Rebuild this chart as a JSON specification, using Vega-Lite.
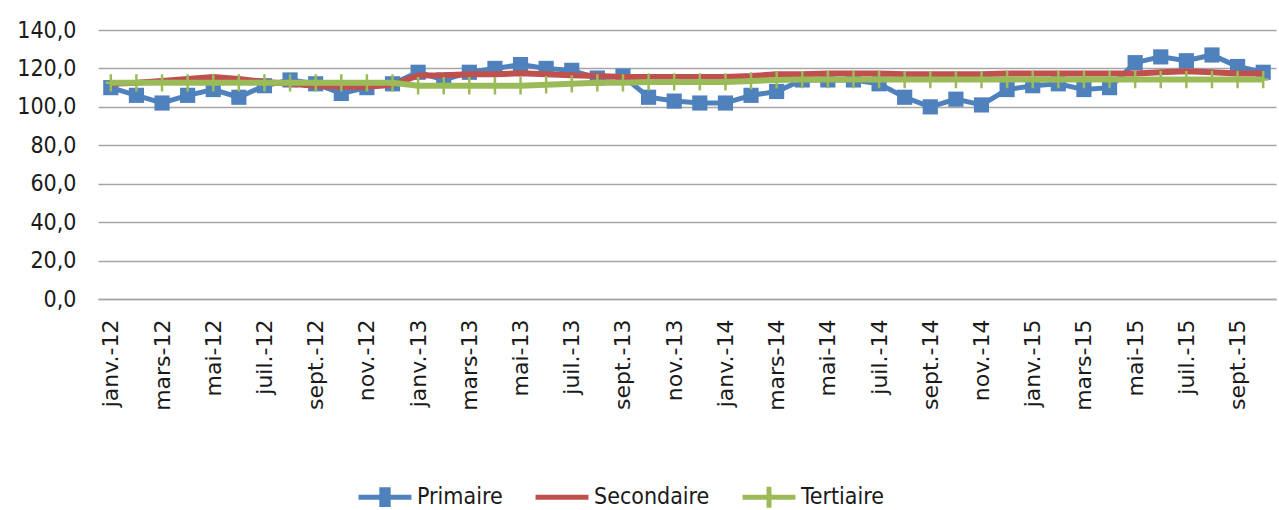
{
  "$schema": "https://vega.github.io/schema/vega-lite/v6.json",
  "autosize": {"type": "none"},
  "width": 1178,
  "height": 269,
  "padding": {"left": 98, "top": 30, "right": 3, "bottom": 211},
  "background": "white",
  "config": {
    "view": {"stroke": null},
    "font": "DejaVu Sans Condensed"
  },
  "datasets": {
    "d": [
      {"mois": "janv.-12", "Primaire": 110, "Secondaire": 112, "Tertiaire": 112.5},
      {"mois": "févr.-12", "Primaire": 106, "Secondaire": 112.5, "Tertiaire": 112.5},
      {"mois": "mars-12", "Primaire": 102, "Secondaire": 113.5, "Tertiaire": 112.5},
      {"mois": "avr.-12", "Primaire": 106, "Secondaire": 114.5, "Tertiaire": 112.5},
      {"mois": "mai-12", "Primaire": 109, "Secondaire": 115.5, "Tertiaire": 112.5},
      {"mois": "juin-12", "Primaire": 105, "Secondaire": 114.5, "Tertiaire": 112.5},
      {"mois": "juil.-12", "Primaire": 111, "Secondaire": 113, "Tertiaire": 112.5},
      {"mois": "août-12", "Primaire": 114, "Secondaire": 112, "Tertiaire": 112.5},
      {"mois": "sept.-12", "Primaire": 112, "Secondaire": 111, "Tertiaire": 112.5},
      {"mois": "oct.-12", "Primaire": 107, "Secondaire": 110.5, "Tertiaire": 112.5},
      {"mois": "nov.-12", "Primaire": 110, "Secondaire": 110.5, "Tertiaire": 112.5},
      {"mois": "déc.-12", "Primaire": 112, "Secondaire": 111.5, "Tertiaire": 112.5},
      {"mois": "janv.-13", "Primaire": 118, "Secondaire": 116.3, "Tertiaire": 111},
      {"mois": "févr.-13", "Primaire": 114, "Secondaire": 116.5, "Tertiaire": 111},
      {"mois": "mars-13", "Primaire": 118, "Secondaire": 117, "Tertiaire": 111},
      {"mois": "avr.-13", "Primaire": 120, "Secondaire": 117, "Tertiaire": 111},
      {"mois": "mai-13", "Primaire": 122, "Secondaire": 117.5, "Tertiaire": 111},
      {"mois": "juin-13", "Primaire": 120, "Secondaire": 117, "Tertiaire": 111.5},
      {"mois": "juil.-13", "Primaire": 119, "Secondaire": 116.5, "Tertiaire": 112},
      {"mois": "août-13", "Primaire": 115, "Secondaire": 116, "Tertiaire": 112.5},
      {"mois": "sept.-13", "Primaire": 116, "Secondaire": 115.5, "Tertiaire": 112.5},
      {"mois": "oct.-13", "Primaire": 105, "Secondaire": 115.5, "Tertiaire": 113},
      {"mois": "nov.-13", "Primaire": 103, "Secondaire": 115.5, "Tertiaire": 113},
      {"mois": "déc.-13", "Primaire": 102, "Secondaire": 115.5, "Tertiaire": 113},
      {"mois": "janv.-14", "Primaire": 102, "Secondaire": 115.5, "Tertiaire": 113},
      {"mois": "févr.-14", "Primaire": 106, "Secondaire": 116, "Tertiaire": 113.5},
      {"mois": "mars-14", "Primaire": 108, "Secondaire": 117, "Tertiaire": 114},
      {"mois": "avr.-14", "Primaire": 114, "Secondaire": 117, "Tertiaire": 114.2},
      {"mois": "mai-14", "Primaire": 114, "Secondaire": 117.3, "Tertiaire": 114.2},
      {"mois": "juin-14", "Primaire": 114, "Secondaire": 117.3, "Tertiaire": 114.2},
      {"mois": "juil.-14", "Primaire": 112, "Secondaire": 117.3, "Tertiaire": 114.2},
      {"mois": "août-14", "Primaire": 105, "Secondaire": 117, "Tertiaire": 114.2},
      {"mois": "sept.-14", "Primaire": 100, "Secondaire": 117, "Tertiaire": 114.2},
      {"mois": "oct.-14", "Primaire": 104, "Secondaire": 117, "Tertiaire": 114.2},
      {"mois": "nov.-14", "Primaire": 101, "Secondaire": 117, "Tertiaire": 114.2},
      {"mois": "déc.-14", "Primaire": 109, "Secondaire": 117.3, "Tertiaire": 114.2},
      {"mois": "janv.-15", "Primaire": 111, "Secondaire": 117.3, "Tertiaire": 114.2},
      {"mois": "févr.-15", "Primaire": 112, "Secondaire": 117.3, "Tertiaire": 114.2},
      {"mois": "mars-15", "Primaire": 109, "Secondaire": 117.3, "Tertiaire": 114.2},
      {"mois": "avr.-15", "Primaire": 110, "Secondaire": 117.3, "Tertiaire": 114.2},
      {"mois": "mai-15", "Primaire": 123, "Secondaire": 117.3, "Tertiaire": 114.2},
      {"mois": "juin-15", "Primaire": 126, "Secondaire": 118, "Tertiaire": 114.2},
      {"mois": "juil.-15", "Primaire": 124, "Secondaire": 118.5, "Tertiaire": 114.2},
      {"mois": "août-15", "Primaire": 127, "Secondaire": 118, "Tertiaire": 114.2},
      {"mois": "sept.-15", "Primaire": 121, "Secondaire": 117.3, "Tertiaire": 114.2},
      {"mois": "oct.-15", "Primaire": 118, "Secondaire": 117.3, "Tertiaire": 114.2}
    ]
  },
  "data": {"name": "d"},
  "transform": [
    {"fold": ["Primaire", "Secondaire", "Tertiaire"], "as": ["serie", "valeur"]}
  ],
  "encoding": {
    "x": {
      "field": "mois",
      "type": "ordinal",
      "title": null,
      "scale": {
        "domain": ["janv.-12","févr.-12","mars-12","avr.-12","mai-12","juin-12","juil.-12","août-12","sept.-12","oct.-12","nov.-12","déc.-12",
                   "janv.-13","févr.-13","mars-13","avr.-13","mai-13","juin-13","juil.-13","août-13","sept.-13","oct.-13","nov.-13","déc.-13",
                   "janv.-14","févr.-14","mars-14","avr.-14","mai-14","juin-14","juil.-14","août-14","sept.-14","oct.-14","nov.-14","déc.-14",
                   "janv.-15","févr.-15","mars-15","avr.-15","mai-15","juin-15","juil.-15","août-15","sept.-15","oct.-15"]
      },
      "axis": {
        "values": ["janv.-12","mars-12","mai-12","juil.-12","sept.-12","nov.-12","janv.-13","mars-13","mai-13","juil.-13","sept.-13","nov.-13","janv.-14","mars-14","mai-14","juil.-14","sept.-14","nov.-14","janv.-15","mars-15","mai-15","juil.-15","sept.-15"],
        "labelAngle": -90,
        "labelAlign": "right",
        "labelBaseline": "middle",
        "labelFont": "DejaVu Sans",
        "labelFontSize": 22,
        "labelColor": "#1a1a1a",
        "labelPadding": 20,
        "labelOverlap": false,
        "ticks": false,
        "domain": true,
        "domainColor": "#A6A6A6",
        "domainWidth": 1.3,
        "grid": false
      }
    },
    "y": {
      "field": "valeur",
      "type": "quantitative",
      "title": null,
      "scale": {"domain": [0, 140], "nice": false, "zero": true},
      "axis": {
        "values": [0, 20, 40, 60, 80, 100, 120, 140],
        "labelExpr": "replace(format(datum.value, '.1f'), '.', ',')",
        "labelFont": "DejaVu Sans Condensed",
        "labelFontSize": 23,
        "labelColor": "#1a1a1a",
        "labelPadding": 22,
        "ticks": false,
        "domain": false,
        "grid": true,
        "gridColor": "#A6A6A6",
        "gridWidth": 1.3
      }
    },
    "color": {
      "field": "serie",
      "type": "nominal",
      "title": null,
      "scale": {
        "domain": ["Primaire", "Secondaire", "Tertiaire"],
        "range": ["#4F81BD", "#C0504D", "#9BBB59"]
      },
      "legend": {
        "orient": "none",
        "direction": "horizontal",
        "legendX": 258,
        "legendY": 438,
        "labelFont": "DejaVu Sans Condensed",
        "labelFontSize": 23,
        "labelColor": "#1a1a1a",
        "labelOffset": 3,
        "columnPadding": 22,
        "symbolSize": 2800,
        "symbolStrokeWidth": 5,
        "symbolType": "M-1,0H1",
        "encode": {
          "symbols": {
            "update": {
              "shape": {"signal": "datum.value === 'Primaire' ? 'M-1,0H1M-0.12,-0.28H0.12V0.28H-0.12ZM0,-0.4L0,-0.4M0,0.4L0,0.4' : (datum.value === 'Tertiaire' ? 'M-1,0H1M0,-0.4V0.4' : 'M-1,0H1M0,-0.4L0,-0.4M0,0.4L0,0.4')"},
              "fill": {"value": "transparent"},
              "stroke": {"scale": "color", "field": "value"},
              "strokeWidth": {"value": 5},
              "opacity": {"value": 1}
            }
          }
        }
      }
    }
  },
  "layer": [
    {
      "transform": [{"filter": "datum.serie === 'Primaire'"}],
      "mark": {"type": "line", "strokeWidth": 5}
    },
    {
      "transform": [{"filter": "datum.serie === 'Primaire'"}],
      "mark": {"type": "point", "shape": "square", "filled": true, "size": 230, "opacity": 1}
    },
    {
      "transform": [{"filter": "datum.serie === 'Secondaire'"}],
      "mark": {"type": "line", "strokeWidth": 6}
    },
    {
      "transform": [{"filter": "datum.serie === 'Tertiaire'"}],
      "mark": {"type": "line", "strokeWidth": 6}
    },
    {
      "transform": [{"filter": "datum.serie === 'Tertiaire'"}],
      "mark": {"type": "point", "shape": "M0,-1V1M-0.6,0H0.6", "filled": false, "strokeWidth": 2.5, "size": 300, "opacity": 1}
    }
  ]
}
